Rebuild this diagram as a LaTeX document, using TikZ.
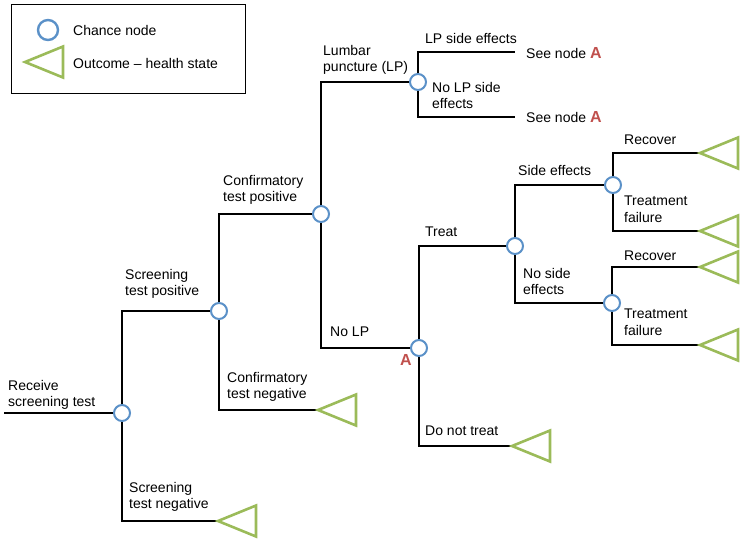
\documentclass[tikz,border=0pt]{standalone}
\usepackage{fontspec}
\setmainfont{Liberation Sans}
\definecolor{nodeblue}{RGB}{91,145,200}
\definecolor{outgreen}{RGB}{155,187,89}
\definecolor{ared}{RGB}{192,80,77}
\begin{document}
\begin{tikzpicture}[x=1pt,y=-1pt,
  chance/.style={circle,draw=nodeblue,line width=2pt,fill=white,minimum size=16pt,inner sep=0pt},
  branch/.style={line width=1.8pt,black},
  outcome/.style={draw=outgreen,line width=2.6pt,line join=miter},
  lbl/.style={anchor=north west,inner sep=0pt,align=left,font=\fontsize{14}{16.5}\selectfont},
  anode/.style={inner sep=0pt,text=ared,font=\fontsize{16}{16}\selectfont\bfseries}]
\useasboundingbox (0,0) rectangle (741,542);

% legend
\node[draw=black,line width=1.2pt,minimum width=234pt,minimum height=89pt,anchor=north west,inner sep=0pt] (legend) at (11,4) {};
\node[chance,minimum size=20pt,line width=2.4pt] (legc) at (48,30) {};
\coordinate (legt) at (25,62);
\draw[outcome] (legt) -- ++(38,-15.5) -- ++(0,31) -- cycle;
\node[anchor=west,inner sep=0pt,font=\fontsize{14}{16.5}\selectfont] (legl1) at (73,30) {Chance node};
\node[anchor=west,inner sep=0pt,font=\fontsize{14}{16.5}\selectfont] (legl2) at (73,63) {Outcome – health state};

% chance nodes
\node[chance] (c1) at (122,413) {};
\node[chance] (c2) at (219,311) {};
\node[chance] (c3) at (321,214) {};
\node[chance] (c4) at (418,82) {};
\node[chance] (cA) at (419,348) {};
\node[chance] (c5) at (515,246) {};
\node[chance] (c6) at (613,185) {};
\node[chance] (c7) at (612,303) {};

% free ends
\coordinate (start) at (4,413);
\coordinate (t1) at (218,521);
\coordinate (t2) at (318,410);
\coordinate (t3) at (512,446);
\coordinate (t4) at (700,153);
\coordinate (t5) at (700,231);
\coordinate (t6) at (700,267);
\coordinate (t7) at (700,345);
\coordinate (e1) at (515,52);
\coordinate (e2) at (515,117);

% connectors
\draw[branch] (start) -- (c1.west);
\draw[branch] (c1.north) |- (c2.west);
\draw[branch] (c1.south) |- (t1);
\draw[branch] (c2.north) |- (c3.west);
\draw[branch] (c2.south) |- (t2);
\draw[branch] (c3.north) |- (c4.west);
\draw[branch] (c3.south) |- (cA.west);
\draw[branch] (c4.north) |- (e1);
\draw[branch] (c4.south) |- (e2);
\draw[branch] (cA.north) |- (c5.west);
\draw[branch] (cA.south) |- (t3);
\draw[branch] (c5.north) |- (c6.west);
\draw[branch] (c5.south) |- (c7.west);
\draw[branch] (c6.north) |- (t4);
\draw[branch] (c6.south) |- (t5);
\draw[branch] (c7.north) |- (t6);
\draw[branch] (c7.south) |- (t7);

% outcome triangles
\foreach \t in {t1,t2,t3,t4,t5,t6,t7}
  \draw[outcome] (\t) -- ++(38,-15.5) -- ++(0,31) -- cycle;

% labels
\node[lbl] (l1) at (8,380) {Receive\\screening test};
\node[lbl] (l2) at (125,269) {Screening\\test positive};
\node[lbl] (l3) at (129,482) {Screening\\test negative};
\node[lbl] (l4) at (223,175) {Confirmatory\\test positive};
\node[lbl] (l5) at (227,372) {Confirmatory\\test negative};
\node[lbl] (l6) at (323,45) {Lumbar\\puncture (LP)};
\node[lbl] (l7) at (330,327) {No LP};
\node[lbl] (l8) at (425,33) {LP side effects};
\node[lbl] (l9) at (432,82) {No LP side\\effects};
\node[lbl] (l10) at (425,227) {Treat};
\node[lbl] (l11) at (425,426) {Do not treat};
\node[lbl] (l12) at (518,165) {Side effects};
\node[lbl] (l13) at (523,268) {No side\\effects};
\node[lbl] (l14) at (624,135) {Recover};
\node[lbl] (l15) at (624,196) {Treatment\\failure};
\node[lbl] (l16) at (624,251) {Recover};
\node[lbl] (l17) at (624,309) {Treatment\\failure};
\node[anchor=west,inner sep=0pt,font=\fontsize{14}{16.5}\selectfont] (s1) at (526,53) {See node {\color{ared}\fontsize{16}{16}\selectfont\bfseries A}};
\node[anchor=west,inner sep=0pt,font=\fontsize{14}{16.5}\selectfont] (s2) at (526,117) {See node {\color{ared}\fontsize{16}{16}\selectfont\bfseries A}};
\node[anode] (la) at (406,360) {A};
\end{tikzpicture}
\end{document}
